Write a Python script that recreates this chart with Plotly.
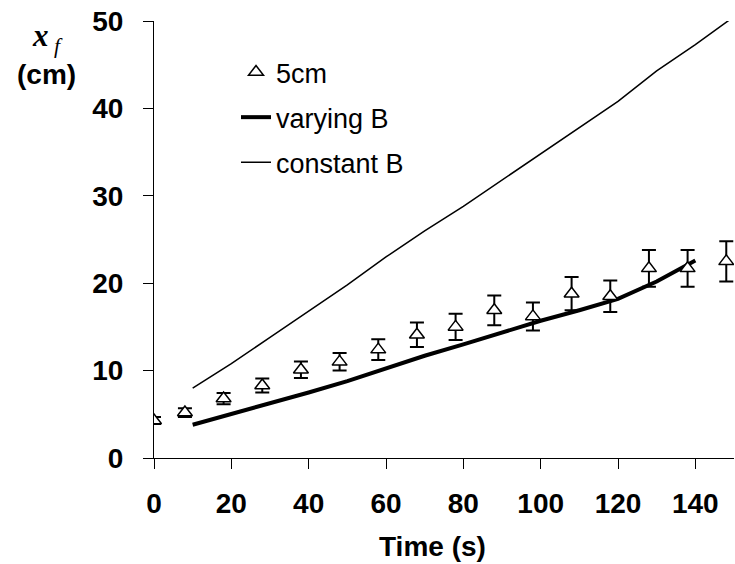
import plotly.graph_objects as go

# measured data (5 cm)
t_meas = [0, 8, 18, 28, 38, 48, 58, 68, 78, 88, 98, 108, 118, 128, 138, 148]
x_meas = [4.3, 5.2, 6.8, 8.3, 10.1, 11.0, 12.4, 14.1, 15.0, 16.9, 16.2, 18.8, 18.5, 21.7, 21.7, 22.5]
x_err = [0.4, 0.5, 0.65, 0.8, 0.95, 1.0, 1.2, 1.4, 1.5, 1.7, 1.6, 1.9, 1.8, 2.1, 2.1, 2.3]

# model: varying B
t_vary = [10, 20, 30, 40, 50, 60, 70, 80, 90, 100, 110, 120, 130, 140]
x_vary = [3.8, 5.0, 6.2, 7.5, 8.8, 10.3, 11.7, 13.0, 14.4, 15.7, 16.9, 18.2, 20.2, 22.6]

# model: constant B
t_const = [10, 20, 30, 40, 50, 60, 70, 80, 90, 100, 110, 120, 130, 140, 150]
x_const = [8.0, 10.8, 13.8, 16.8, 19.8, 23.0, 26.0, 28.8, 31.8, 34.8, 37.7, 40.8, 44.3, 47.3, 50.5]

x_ticks = [0, 20, 40, 60, 80, 100, 120, 140]
y_ticks = [0, 10, 20, 30, 40, 50]

FONT = "Liberation Sans, Arial, sans-serif"

fig = go.Figure()
fig.add_trace(go.Scatter(
    x=t_vary, y=x_vary, mode="lines", name="varying B",
    line=dict(color="black", width=4), legendgroup="b", legendrank=2,
))
fig.add_trace(go.Scatter(
    x=t_const, y=x_const, mode="lines", name="constant B",
    line=dict(color="black", width=1.5), legendgroup="c", legendrank=3,
))
fig.add_trace(go.Scatter(
    x=t_meas, y=x_meas, mode="markers", name="5cm",
    marker=dict(symbol="triangle-up", size=13, color="white",
                line=dict(color="black", width=1.5)),
    error_y=dict(type="data", array=x_err, visible=True, color="black",
                 thickness=2, width=7),
    legendgroup="a", legendrank=1,
))

fig.update_layout(
    width=735, height=564,
    margin=dict(l=154, r=1, t=21, b=106),
    paper_bgcolor="white", plot_bgcolor="white",
    font=dict(family=FONT, color="black"),
    legend=dict(
        traceorder="grouped",
        x=(236 - 154) / 580, y=(458 - 48) / 437,
        xanchor="left", yanchor="top",
        bgcolor="rgba(0,0,0,0)",
        font=dict(size=27, family=FONT),
        tracegroupgap=7,
    ),
    xaxis=dict(
        range=[0, 150], tickvals=x_ticks, ticks="outside", ticklen=10,
        tickcolor="black", showline=True, linecolor="black", linewidth=1,
        showgrid=False, zeroline=False,
        tickfont=dict(size=28, family=FONT, weight="bold"),
        ticklabelstandoff=10,
    ),
    yaxis=dict(
        range=[0, 50], tickvals=y_ticks, ticks="outside", ticklen=10,
        tickcolor="black", showline=True, linecolor="black", linewidth=1,
        showgrid=False, zeroline=False,
        tickfont=dict(size=28, family=FONT, weight="bold"),
        ticklabelstandoff=14,
    ),
    annotations=[
        dict(text="<b><i>x</i></b><sub><i> f</i></sub>", xref="paper", yref="paper",
             x=(47 - 154) / 580, y=(458 - 38) / 437, xanchor="center", yanchor="middle",
             showarrow=False, font=dict(size=31, family="Liberation Serif, Times New Roman, serif")),
        dict(text="<b>(cm)</b>", xref="paper", yref="paper",
             x=(46 - 154) / 580, y=(458 - 74) / 437, xanchor="center", yanchor="middle",
             showarrow=False, font=dict(size=28, family=FONT)),
        dict(text="<b>Time (s)</b>", xref="paper", yref="paper",
             x=(432 - 154) / 580, y=(458 - 546) / 437, xanchor="center", yanchor="middle",
             showarrow=False, font=dict(size=28, family=FONT)),
    ],
)

fig.write_html("out.html")
